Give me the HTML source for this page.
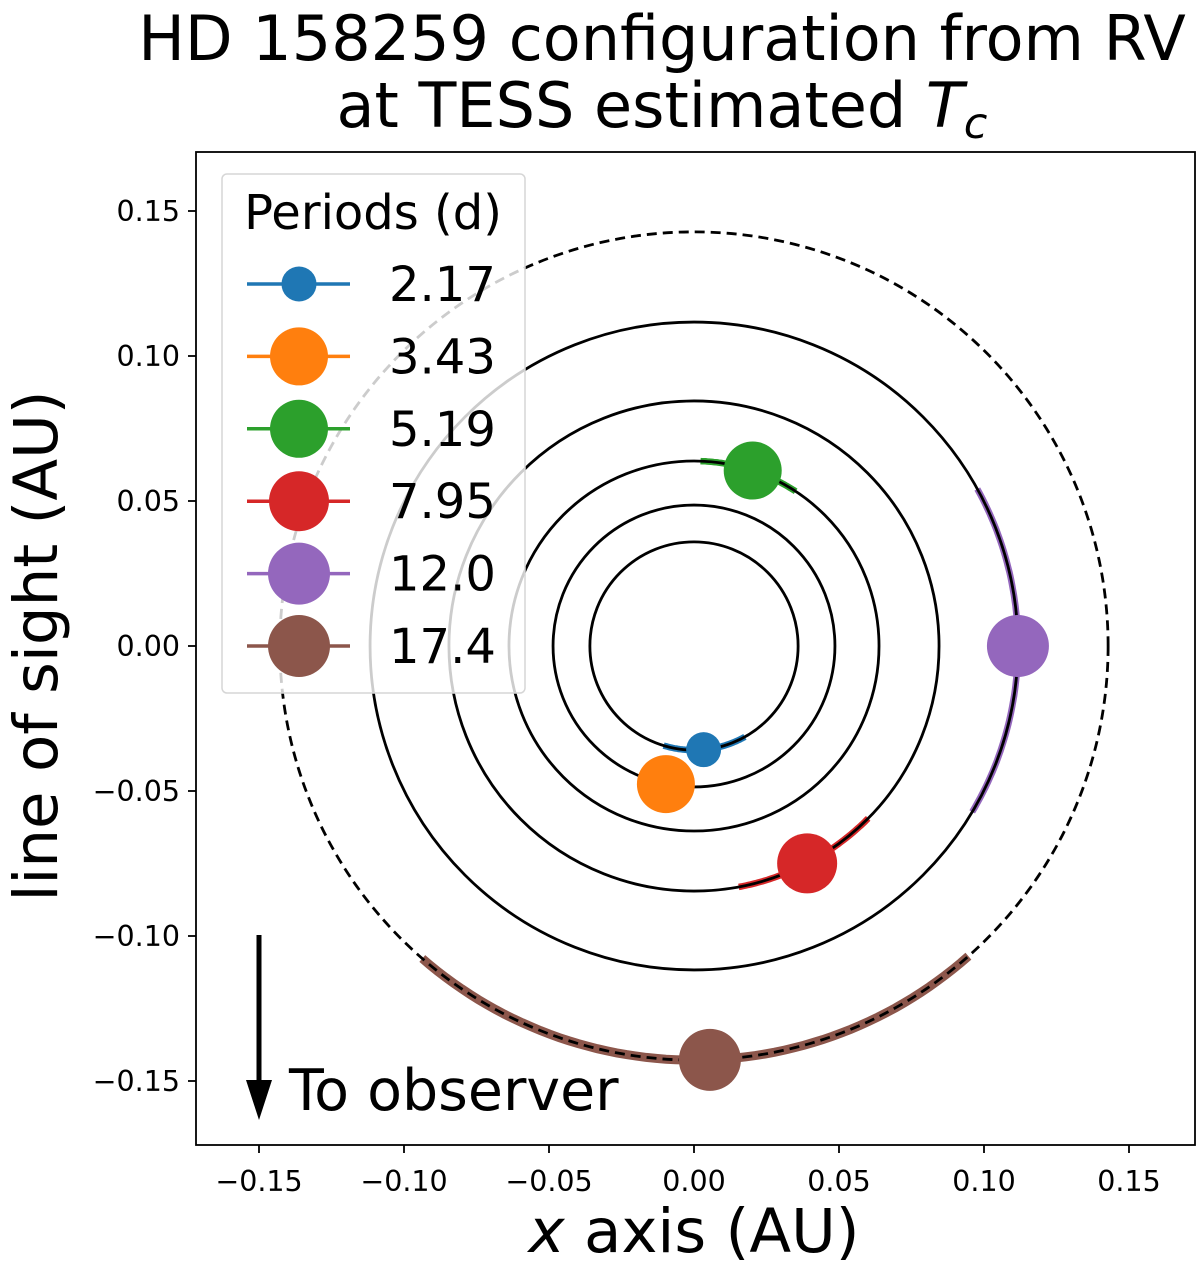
<!DOCTYPE html>
<html><head><meta charset="utf-8"><style>
body{margin:0;background:#fff}
svg{display:block;font-family:"DejaVu Sans","Liberation Sans",sans-serif}
</style></head><body>
<svg id="chart" width="1200" height="1267" viewBox="0 0 1200 1267">
<g id="title">
<text x="662" y="60" font-size="62" text-anchor="middle">HD 158259 configuration from RV</text>
<text x="662" y="127" font-size="62" text-anchor="middle">at TESS estimated <tspan font-style="italic">T</tspan><tspan font-style="italic" font-size="43" dy="11">c</tspan></text>
</g>
<g id="plot"></g>
<rect x="196" y="152" width="999" height="993" fill="none" stroke="#000" stroke-width="1.8"/>
<g id="axes"></g>
<text x="694" y="1252" font-size="61" text-anchor="middle"><tspan font-style="italic">x</tspan> axis (AU)</text>
<text transform="translate(57,646) rotate(-90)" font-size="61" text-anchor="middle">line of sight (AU)</text>
</svg>
<script>
const periods=["2.17","3.43","5.19","7.95","12.0","17.4"];
const radiiAU=[0.0359,0.0486,0.0638,0.0845,0.1117,0.1428];
const planetAngleDeg=[-84.7,-101.5,71.5,-62.5,0,-87.8];
const arcStartDeg=[-107,null,88,-79.5,29,-131];
const arcEndDeg=[-60.7,null,56.7,-44.7,-30.8,-48.5];
const markerR=[17.5,29,29,30,31,31];
const colors=["#1f77b4","#ff7f0e","#2ca02c","#d62728","#9467bd","#8c564b"];
const ticks=[-0.15,-0.10,-0.05,0.00,0.05,0.10,0.15];
const tickLabels=["\u22120.15","\u22120.10","\u22120.05","0.00","0.05","0.10","0.15"];

const NS="http://www.w3.org/2000/svg";
const S=2900, CX=694, CY=646;
const sx=v=>CX+v*S, sy=v=>CY-v*S;
function mk(t,a,p){const e=document.createElementNS(NS,t);for(const k in a)e.setAttribute(k,a[k]);p.appendChild(e);return e;}
const plot=document.getElementById('plot');
const axes=document.getElementById('axes');
const clip=mk('clipPath',{id:'cp'},plot);mk('rect',{x:196,y:152,width:999,height:993},clip);
const g=mk('g',{'clip-path':'url(#cp)'},plot);
function pt(r,deg){const a=deg*Math.PI/180;return [sx(r*Math.cos(a)),sy(r*Math.sin(a))];}
function arcPath(r,a0,a1){let d='';const n=60;for(let i=0;i<=n;i++){const p=pt(r,a0+(a1-a0)*i/n);d+=(i?'L':'M')+p[0].toFixed(1)+' '+p[1].toFixed(1);}return d;}
for(let i=0;i<periods.length;i++){
  if(arcStartDeg[i]===null)continue;
  const a=mk('path',{d:arcPath(radiiAU[i],arcStartDeg[i],arcEndDeg[i]),fill:'none',stroke:colors[i],'stroke-width':i==5?9:6.5},g);
  
  
}
for(let i=0;i<periods.length;i++){
  const last=i==periods.length-1;
  const c=mk('circle',{cx:sx(0),cy:sy(0),r:radiiAU[i]*S,fill:'none',stroke:'#000','stroke-width':2.8},g);
  if(last)c.setAttribute('stroke-dasharray','10 6');
  
  
}
for(let i=0;i<periods.length;i++){
  const p=pt(radiiAU[i],planetAngleDeg[i]);
  const c=mk('circle',{cx:p[0],cy:p[1],r:markerR[i],fill:colors[i]},g);
  
  
}
const ar=mk('g',{},g);


mk('line',{x1:sx(-0.15),y1:935,x2:sx(-0.15),y2:1082,stroke:'#000','stroke-width':5},ar);
mk('polygon',{points:`${sx(-0.15)-13},1080 ${sx(-0.15)+13},1080 ${sx(-0.15)},1120`,fill:'#000'},ar);
const tt=mk('text',{x:289,y:1110,'font-size':57},g);tt.textContent='To observer';


const lg=mk('g',{},plot);


mk('rect',{x:222,y:174,width:303,height:519,rx:5,fill:'rgba(255,255,255,0.8)',stroke:'#d6d6d6','stroke-width':1.5},lg);
const lt=mk('text',{x:373,y:229,'font-size':48,'text-anchor':'middle'},lg);lt.textContent='Periods (d)';


for(let i=0;i<periods.length;i++){
  const y=284+i*72.4;
  const e=mk('g',{},lg);
  
  
  mk('line',{x1:247,y1:y,x2:350,y2:y,stroke:colors[i],'stroke-width':3.5},e);
  mk('circle',{cx:299,cy:y,r:markerR[i],fill:colors[i]},e);
  const t=mk('text',{x:389,y:y+17,'font-size':48},e);t.textContent=periods[i];
}
for(let i=0;i<ticks.length;i++){
  const x=sx(ticks[i]);
  mk('line',{x1:x,y1:1145,x2:x,y2:1153,stroke:'#000','stroke-width':1.8},axes);
  const t=mk('text',{x:x,y:1191,'font-size':28.5,'text-anchor':'middle'},axes);t.textContent=tickLabels[i];
  
  
  const y=sy(ticks[i]);
  mk('line',{x1:188,y1:y,x2:196,y2:y,stroke:'#000','stroke-width':1.8},axes);
  const u=mk('text',{x:180,y:y+10,'font-size':28.5,'text-anchor':'end'},axes);u.textContent=tickLabels[i];
  
  
}
</script>
</body></html>
